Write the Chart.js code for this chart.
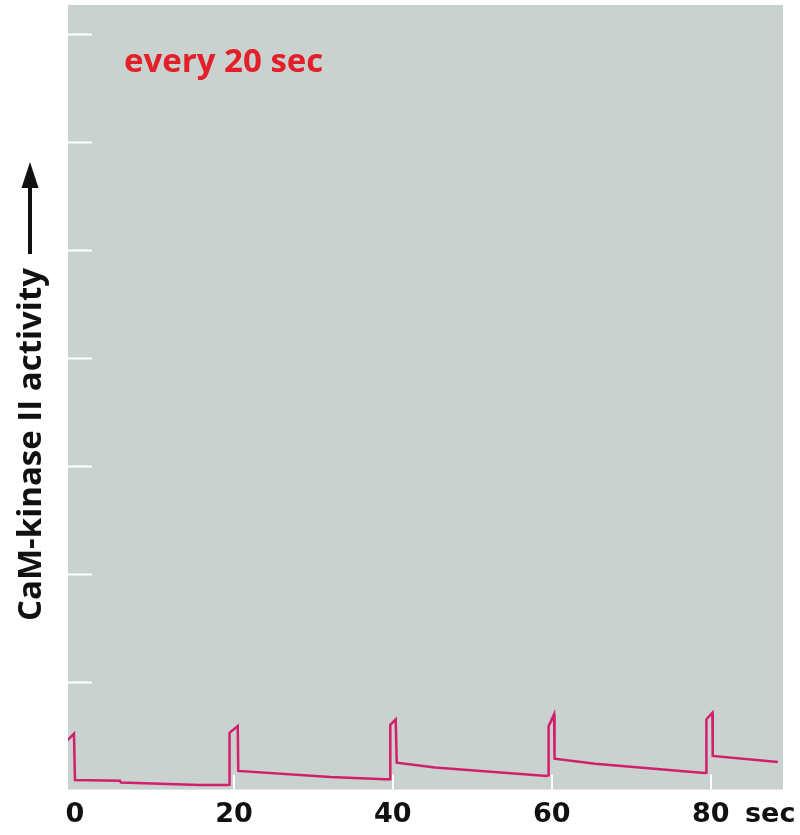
<!DOCTYPE html>
<html>
<head>
<meta charset="utf-8">
<script src="https://cdn.jsdelivr.net/npm/chart.js@4"></script>
<style>
  body { margin: 0; background: #fff; }
  .wrap { width: 800px; height: 835px; position: relative; }
</style>
</head>
<body>
<div class="wrap"><canvas id="chart"></canvas></div>
<script>
// time in seconds
const timeSec = [-0.97, -0.13, 0.0, 5.66, 5.79, 15.7, 19.26, 19.42, 19.45, 20.48, 20.55, 32.1, 39.0,
	39.65, 39.68, 40.36, 40.49, 45.3, 59.37, 59.57, 59.6, 60.29, 60.35, 65.45, 79.2,
	79.42, 79.46, 80.21, 80.26, 88.45];
// CaM-kinase II activity (arbitrary units, one unit = one y tick)
const activity = [0.456, 0.518, 0.088, 0.083, 0.065, 0.042, 0.042, 0.046, 0.527, 0.589, 0.173, 0.117, 0.095,
	0.095, 0.601, 0.650, 0.25, 0.204, 0.127, 0.134, 0.586, 0.697, 0.287, 0.24, 0.154,
	0.157, 0.65, 0.712, 0.312, 0.256];
const xLabelValues = [0, 20, 40, 60, 80];
const xTickValues = [20, 40, 60, 80];
const yTickValues = [1, 2, 3, 4, 5, 6, 7];
const yTitle = "CaM-kinase II activity";
const noteText = "every 20 sec";
const xUnit = "sec";

const points = timeSec.map((t, i) => ({ x: t, y: activity[i] }));

const decor = {
	id: "decor",
	beforeDraw(chart) {
		const { ctx, chartArea: a } = chart;
		ctx.save();
		ctx.fillStyle = "#c9d2ce";
		ctx.fillRect(a.left, a.top, a.right - a.left, a.bottom - a.top);
		ctx.restore();
	},
	afterDatasetsDraw(chart) {
		const { ctx, chartArea: a, scales } = chart;
		ctx.save();
		// white tick marks
		ctx.strokeStyle = "#ffffff";
		ctx.lineWidth = 2;
		yTickValues.forEach((v) => {
			const y = Math.round(scales.y.getPixelForValue(v)) + 0.5;
			ctx.beginPath();
			ctx.moveTo(a.left, y);
			ctx.lineTo(a.left + 24, y);
			ctx.stroke();
		});
		xTickValues.forEach((v) => {
			const x = Math.round(scales.x.getPixelForValue(v));
			ctx.beginPath();
			ctx.moveTo(x, a.bottom);
			ctx.lineTo(x, a.bottom - 15);
			ctx.stroke();
		});

		// note
		ctx.fillStyle = "#e3202a";
		ctx.font = "bold 33px 'Open Sans'";
		ctx.textAlign = "left";
		ctx.textBaseline = "alphabetic";
		ctx.fillText(noteText, 124, 72);

		// y title, rotated
		ctx.fillStyle = "#111";
		ctx.save();
		ctx.translate(41, 621);
		ctx.rotate(-Math.PI / 2);
		ctx.font = "bold 33px 'Open Sans'";
		ctx.fillText(yTitle, 0, 0);
		ctx.restore();

		// arrow
		ctx.strokeStyle = "#111";
		ctx.lineWidth = 4;
		ctx.beginPath();
		ctx.moveTo(30, 254);
		ctx.lineTo(30, 180);
		ctx.stroke();
		ctx.beginPath();
		ctx.moveTo(30, 162);
		ctx.lineTo(38.5, 188);
		ctx.lineTo(21.5, 188);
		ctx.closePath();
		ctx.fill();

		// unit after last x label
		ctx.font = "bold 27px 'DejaVu Sans'";
		ctx.fillText(xUnit, 745, 822);
		ctx.restore();
	},
};

new Chart(document.getElementById("chart"), {
	type: "line",
	data: {
		datasets: [
			{
				data: points,
				borderColor: "#d11f6e",
				borderWidth: 2.5,
				pointRadius: 0,
				tension: 0,
				fill: false,
			},
		],
	},
	options: {
		responsive: true,
		maintainAspectRatio: false,
		animation: false,
		events: [],
		layout: { padding: { left: 68, top: 5, right: 17, bottom: -5 } },
		plugins: { legend: { display: false }, tooltip: { enabled: false } },
		scales: {
			x: {
				type: "linear",
				min: -0.88,
				max: 89.1,
				border: { display: false },
				grid: { display: false, drawTicks: false },
				afterBuildTicks: (scale) => {
					scale.ticks = xLabelValues.map((v) => ({ value: v }));
				},
				ticks: {
					color: "#111",
					padding: 9,
					maxRotation: 0,
					autoSkip: false,
					font: { family: "DejaVu Sans", weight: "bold", size: 27 },
				},
			},
			y: {
				type: "linear",
				min: 0,
				max: 7.27,
				display: true,
				border: { display: false },
				grid: { display: false, drawTicks: false },
				ticks: { display: false },
			},
		},
	},
	plugins: [decor],
});
</script>
</body>
</html>
